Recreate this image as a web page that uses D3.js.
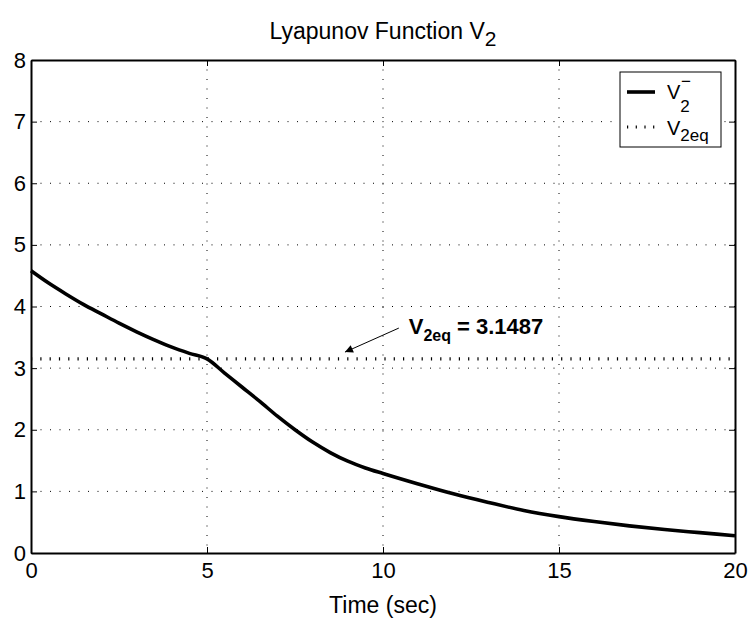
<!DOCTYPE html>
<html>
<head>
<meta charset="UTF-8">
<title>Lyapunov Function V2</title>
<script src="https://cdn.jsdelivr.net/npm/d3@7"></script>
<style>
  body { margin: 0; background: #fff; }
  svg { display: block; font-family: "Liberation Sans", Arial, sans-serif; }
  .axis path, .axis line { stroke: #000; fill: none; }
  .axis text { font-size: 22px; fill: #000; }
  .grid line { stroke: #000; stroke-width: 1; stroke-dasharray: 1 8.5; }
</style>
</head>
<body>
<svg width="751" height="627"></svg>
<script>
// data
const timeLo = [0, 0.5, 1, 1.5, 2, 2.5, 3, 3.5, 4, 4.5, 5];
const v2Lo   = [4.58, 4.38, 4.20, 4.03, 3.88, 3.73, 3.59, 3.46, 3.34, 3.24, 3.15];
const timeHi = [5, 5.5, 6, 6.5, 7, 7.5, 8, 8.5, 9, 9.5, 10, 11, 12, 13, 14, 15, 16, 17, 18, 19, 20];
const v2Hi   = [3.15, 2.92, 2.69, 2.46, 2.22, 2.00, 1.80, 1.63, 1.49, 1.38, 1.29, 1.12, 0.96, 0.82, 0.69, 0.59, 0.51, 0.44, 0.38, 0.33, 0.28];
const v2eq = 3.1487;
const xTicks = [0, 5, 10, 15, 20];
const yTicks = [0, 1, 2, 3, 4, 5, 6, 7, 8];

const svg = d3.select('svg');
const margin = { top: 60, right: 16, bottom: 74, left: 31 };
const W = +svg.attr('width'), H = +svg.attr('height');
const width = W - margin.left - margin.right;
const height = H - margin.top - margin.bottom;

const x = d3.scaleLinear().domain([0, 20]).range([0, width]);
const y = d3.scaleLinear().domain([0, 8]).range([height, 0]);

const g = svg.append('g').attr('transform', `translate(${margin.left},${margin.top})`);

// grid
g.append('g').attr('class', 'grid')
  .selectAll('line').data(xTicks.slice(1, -1)).join('line')
  .attr('x1', d => x(d)).attr('x2', d => x(d)).attr('y1', 0).attr('y2', height);
g.append('g').attr('class', 'grid')
  .selectAll('line').data(yTicks.slice(1, -1)).join('line')
  .attr('y1', d => y(d)).attr('y2', d => y(d)).attr('x1', 0).attr('x2', width);

// equilibrium line
g.append('line')
  .attr('x1', 0).attr('x2', width)
  .attr('y1', y(v2eq)).attr('y2', y(v2eq))
  .attr('stroke', '#000').attr('stroke-width', 3.2)
  .attr('stroke-dasharray', '1.2 8.1');

// V2 curve
const pts = timeLo.map((t, i) => [t, v2Lo[i]])
  .concat(timeHi.slice(1).map((t, i) => [t, v2Hi[i + 1]]));
const line = d3.line().x(d => x(d[0])).y(d => y(d[1])).curve(d3.curveMonotoneX);
g.append('path').datum(pts)
  .attr('d', line)
  .attr('fill', 'none').attr('stroke', '#000').attr('stroke-width', 3.6)
  .attr('stroke-linejoin', 'round');

// axes (ticks point inward, box on)
g.append('g').attr('class', 'axis')
  .attr('transform', `translate(0,${height})`)
  .call(d3.axisBottom(x).tickValues(xTicks).tickSizeInner(-6).tickSizeOuter(0).tickPadding(9));
g.append('g').attr('class', 'axis')
  .call(d3.axisLeft(y).tickValues(yTicks).tickSizeInner(-6).tickSizeOuter(0).tickPadding(5));
g.append('g').attr('class', 'axis')
  .call(d3.axisTop(x).tickValues(xTicks).tickSizeInner(-6).tickSizeOuter(0).tickFormat(''));
g.append('g').attr('class', 'axis')
  .attr('transform', `translate(${width},0)`)
  .call(d3.axisRight(y).tickValues(yTicks).tickSizeInner(-6).tickSizeOuter(0).tickFormat(''));
g.selectAll('.axis path.domain').attr('stroke-width', 2);
g.selectAll('.axis line').attr('stroke-width', 1);

// title
const title = svg.append('text')
  .attr('x', margin.left + width / 2).attr('y', 39)
  .attr('text-anchor', 'middle').attr('font-size', 23);
title.append('tspan').text('Lyapunov Function V');
title.append('tspan').attr('dy', 7).attr('font-size', 21).text('2');

// x label
svg.append('text')
  .attr('x', margin.left + width / 2).attr('y', H - 14)
  .attr('text-anchor', 'middle').attr('font-size', 23)
  .text('Time (sec)');

// annotation
const ann = g.append('text')
  .attr('x', x(10.73)).attr('y', y(3.55))
  .attr('font-size', 22).attr('font-weight', 'bold');
ann.append('tspan').text('V');
ann.append('tspan').attr('dy', 7).attr('font-size', 16).text('2eq');
ann.append('tspan').attr('dy', -7).text(' = 3.1487');

svg.append('defs').append('marker')
  .attr('id', 'head').attr('viewBox', '0 0 10 10')
  .attr('refX', 10).attr('refY', 5)
  .attr('markerWidth', 14).attr('markerHeight', 8)
  .attr('markerUnits', 'userSpaceOnUse')
  .attr('orient', 'auto')
  .append('path').attr('d', 'M0,0L10,5L0,10Z').attr('fill', '#000');
g.append('line')
  .attr('x1', x(10.45)).attr('y1', y(3.65))
  .attr('x2', x(8.92)).attr('y2', y(3.26))
  .attr('stroke', '#000').attr('stroke-width', 1)
  .attr('marker-end', 'url(#head)');

// legend
const lg = g.append('g').attr('transform', `translate(${width - 115},12)`);
lg.append('rect').attr('width', 101).attr('height', 75)
  .attr('fill', '#fff').attr('stroke', '#000').attr('stroke-width', 1);
lg.append('line').attr('x1', 7).attr('x2', 35).attr('y1', 20).attr('y2', 20)
  .attr('stroke', '#000').attr('stroke-width', 3.6);
lg.append('line').attr('x1', 7).attr('x2', 35).attr('y1', 55).attr('y2', 55)
  .attr('stroke', '#000').attr('stroke-width', 3.2).attr('stroke-dasharray', '1.2 7.5');
const l1 = lg.append('text').attr('x', 47).attr('y', 27).attr('font-size', 20);
l1.append('tspan').text('V');
l1.append('tspan').attr('dy', 13).attr('font-size', 17).text('2');
lg.append('text').attr('x', 61).attr('y', 15).attr('font-size', 17).text('−');
const l2 = lg.append('text').attr('x', 47).attr('y', 63).attr('font-size', 20);
l2.append('tspan').text('V');
l2.append('tspan').attr('dy', 6).attr('font-size', 17).text('2eq');
</script>
</body>
</html>
